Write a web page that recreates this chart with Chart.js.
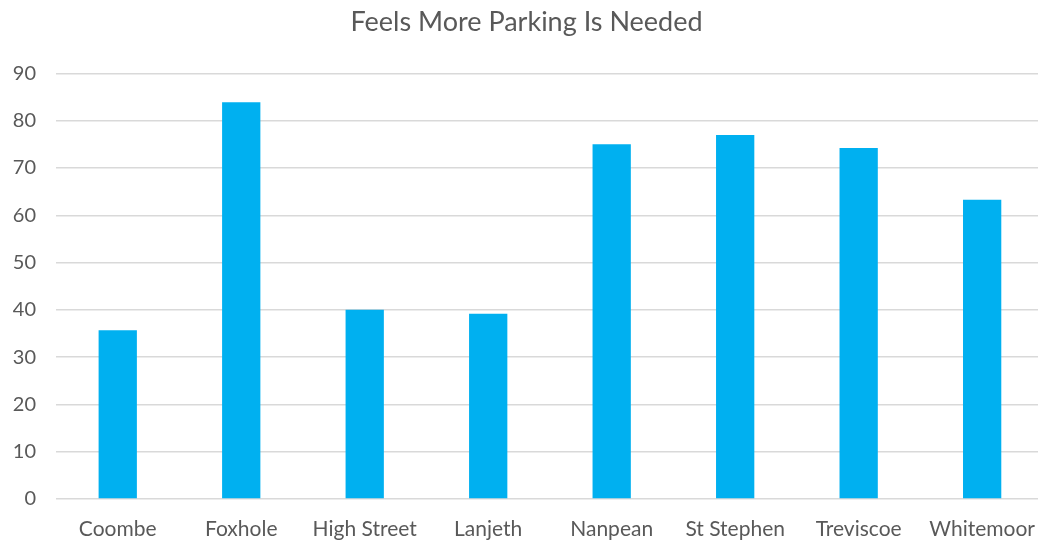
<!DOCTYPE html>
<html>
<head>
<meta charset="utf-8">
<script src="https://cdn.jsdelivr.net/npm/chart.js@4"></script>
<style>
  html, body { margin: 0; padding: 0; background: #fff; overflow: hidden; }
  #wrap { width: 1053px; height: 542px; }
</style>
</head>
<body>
<div id="wrap"><canvas id="chart"></canvas></div>
<script>
// data
const villages = ["Coombe", "Foxhole", "High Street", "Lanjeth", "Nanpean", "St Stephen", "Treviscoe", "Whitemoor"];
const parkingNeeded = [35.7, 83.9, 40.0, 39.2, 75.0, 77.0, 74.2, 63.3];
const chartTitle = "Feels More Parking Is Needed";

const ctx = document.getElementById('chart').getContext('2d');
new Chart(ctx, {
    type: 'bar',
    data: {
        labels: villages,
        datasets: [{
            label: chartTitle,
            data: parkingNeeded,
            backgroundColor: '#00B0F0',
            borderWidth: 0,
            barPercentage: 1,
            categoryPercentage: 0.31
        }]
    },
    options: {
        responsive: true,
        maintainAspectRatio: false,
        animation: false,
        layout: { padding: 0 },
        plugins: {
            legend: { display: false },
            tooltip: { enabled: false },
            title: {
                display: true,
                text: chartTitle,
                color: '#595959',
                font: { family: 'Lato', size: 27, weight: 'normal', lineHeight: 1.2 },
                padding: { top: 6, bottom: 35 }
            }
        },
        scales: {
            x: {
                grid: { display: false, drawTicks: false },
                border: { display: false },
                ticks: {
                    color: '#595959',
                    font: { family: 'Lato', size: 21 },
                    padding: 18,
                    maxRotation: 0
                },
                afterFit: (scale) => { scale.height = 43; }
            },
            y: {
                min: 0,
                max: 90,
                grid: { color: '#d9d9d9', lineWidth: 1.5, drawTicks: false },
                border: { display: false },
                ticks: {
                    stepSize: 10,
                    color: '#595959',
                    font: { family: 'Lato', size: 20 },
                    padding: 20
                },
                afterFit: (scale) => { scale.width = 56; }
            }
        }
    }
});
</script>
</body>
</html>
